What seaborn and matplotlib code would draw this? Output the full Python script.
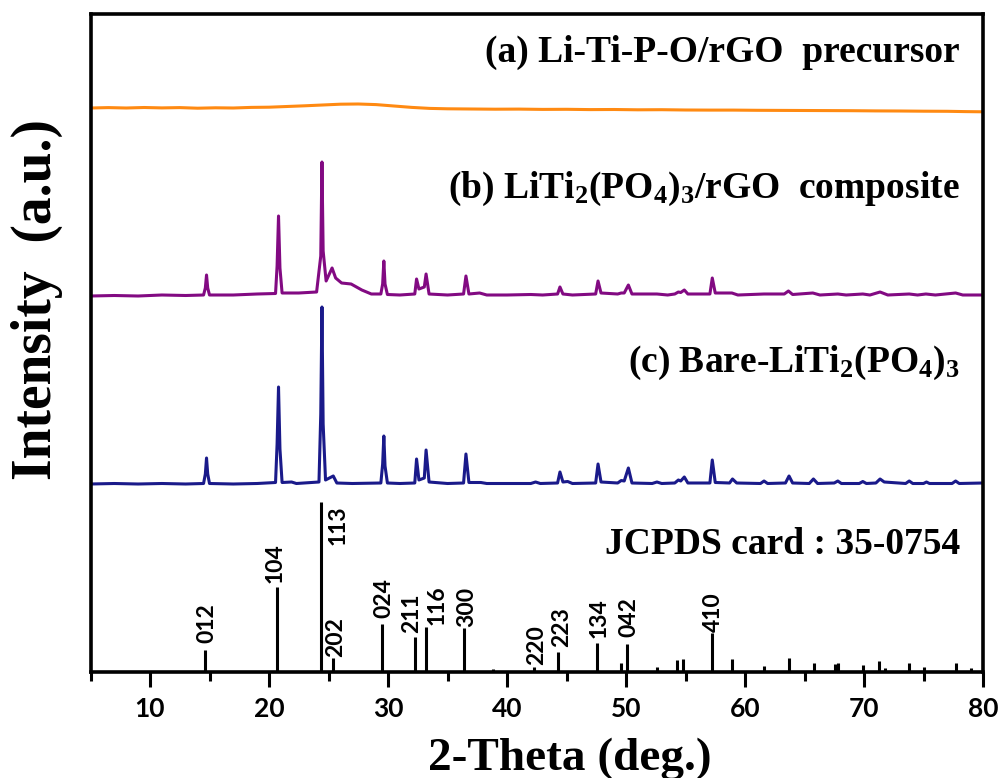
import numpy as np
import pandas as pd
import matplotlib
matplotlib.use("Agg")
import matplotlib.pyplot as plt
from matplotlib.ticker import MultipleLocator
import seaborn as sns

# ---------------- data ----------------
# (a) Li-Ti-P-O/rGO precursor : 2-theta, intensity (a.u.) above its own baseline
a_theta = [5, 6.5, 8, 9.5, 11, 12.5, 14, 15.5, 17, 18.5, 20, 21.5, 23, 24.5, 26, 27.5,
           29, 30.5, 32, 33.5, 35, 37, 39, 41, 43, 45, 47, 49, 51, 53, 55, 57, 59, 61,
           63, 65, 67, 69, 71, 73, 75, 77, 78.5, 80]
a_int = [0, 0.4, 0, 0.5, 0.1, 0.4, -0.2, 0.2, 0, 0.6, 0.8, 1.5, 2.2, 3, 3.8, 4,
         3.4, 2, 0.6, -0.4, -0.8, -1, -1.2, -1.1, -1.4, -1.3, -1.6, -1.5, -1.8, -1.7, -2, -2.1, -2.1, -2.3,
         -2.4, -2.5, -2.6, -2.7, -2.9, -3, -3.2, -3.3, -3.6, -3.8]

# (b) LiTi2(PO4)3/rGO composite
b_theta = [5, 7, 9, 11, 13, 14.5, 14.65, 14.75, 14.85, 15.0, 17, 19, 20.55, 20.68, 20.8,
           20.92, 21.1, 22.5, 24.0, 24.35, 24.45, 24.55, 24.8, 25.3, 25.6, 26.1, 26.9, 27.8,
           28.6, 29.4, 29.55, 29.65, 29.75, 29.95, 31, 32.25, 32.4, 32.6, 33.05, 33.2, 33.45,
           35, 36.35, 36.55, 36.8, 37.7, 38.3, 40, 42, 43, 44.25, 44.45, 44.7, 45.5, 47.45,
           47.65, 47.9, 49.3, 49.6, 49.85, 50.2, 50.5, 52.6, 53.5, 54.1, 54.4, 54.6, 54.9,
           55.2, 57.05, 57.25, 57.5, 58.9, 59.4, 61.6, 63.3, 63.65, 64.0, 65.7, 66.3, 67.8,
           68.5, 69.9, 70.5, 71.35, 72.0, 73.8, 74.5, 75.2, 76, 77.7, 78.3, 80]
b_int = [0, 0.5, 0, 1, 0.5, 1, 8, 21, 8, 1, 1, 2, 2.5, 30, 80,
         28, 3, 3, 4, 40, 134, 45, 15, 28, 18, 13, 12, 6,
         2, 2, 12, 35, 12, 1.5, 1, 2, 17, 7, 9, 22, 2,
         1, 2, 20, 2, 3, 1, 1, 1.5, 1, 2, 9, 2, 1, 2,
         15, 3, 2, 3, 3, 11, 2, 2, 1, 2, 4, 3.5, 6,
         2, 2, 18, 3, 3, 1, 2, 2, 5, 1.5, 3, 1, 2,
         1, 2, 1, 4, 1, 2, 1, 2, 1, 3, 1, 1]

# (c) Bare-LiTi2(PO4)3
c_theta = [5, 7, 9, 11, 13, 14.5, 14.65, 14.75, 14.85, 15.0, 17, 19, 20.55, 20.68, 20.8,
           20.92, 21.1, 21.9, 22.3, 24.2, 24.35, 24.45, 24.55, 24.75, 25.4, 25.7, 27, 29.4,
           29.55, 29.65, 29.75, 29.95, 31, 32.25, 32.4, 32.6, 33.05, 33.2, 33.45, 35, 36.35,
           36.55, 36.8, 37.8, 38.3, 40, 42.0, 42.4, 42.8, 44.25, 44.45, 44.7, 45.1, 45.5,
           47.45, 47.65, 47.9, 49.3, 49.6, 49.85, 50.2, 50.5, 52.2, 52.6, 53, 54.1, 54.4,
           54.6, 54.9, 55.2, 57.05, 57.25, 57.5, 58.7, 58.95, 59.3, 61.3, 61.6, 61.9, 63.4,
           63.7, 64.0, 65.4, 65.75, 66.1, 67.5, 67.8, 68.1, 69.6, 69.9, 70.2, 71.0, 71.35,
           71.7, 73.5, 73.8, 74.1, 75.0, 75.25, 75.5, 77.4, 77.7, 78.0, 80]
c_int = [0, 0.5, 0, 0.5, 0, 0.5, 10, 26, 10, 0.5, 0, 0.5, 1.5, 40, 97,
         35, 1.5, 2, 0.5, 2, 70, 177, 60, 4, 8, 1, 0.5, 1,
         20, 48, 18, 1, 0.5, 1, 25, 4, 6, 34, 2, 0.5, 1,
         30, 1.5, 1.5, 0.5, 0.5, 0.5, 2, 0.5, 1, 12, 2, 2.5, 0.5,
         1, 20, 2, 1, 3.5, 3, 16, 1, 0.5, 2, 0.5, 1, 4,
         3, 7, 1, 1, 24, 1.5, 1, 5, 1, 0.5, 3, 0.5, 1,
         8, 1, 0.5, 5, 0.5, 1, 3, 0.5, 0.5, 2.5, 0.5, 1, 5,
         2, 0.5, 3, 0.5, 0.5, 2, 0.5, 0.5, 3, 0.5, 1]

# JCPDS card 35-0754 reference lines
ref_theta = [14.6, 20.7, 24.4, 25.4, 29.5, 32.3, 33.2, 36.4, 38.8, 42.3, 44.3, 47.6,
             49.6, 50.1, 52.6, 54.3, 54.8, 57.2, 58.9, 61.6, 63.7, 65.8, 67.6, 67.8,
             69.9, 71.3, 71.8, 73.8, 75.0, 77.7, 79.0]
ref_int = [22, 85, 170, 14, 48, 35, 45, 44, 3, 5, 20, 29,
           9, 28, 5, 12, 13, 39, 13, 6, 14, 9, 8, 9,
           7, 11, 4, 9, 5, 9, 4]

hkl_labels = ["012", "104", "113", "202", "024", "211", "116", "300",
              "220", "223", "134", "042", "410"]
hkl_theta = [14.6, 20.7, 24.4, 25.4, 29.5, 32.3, 33.2, 36.4, 42.3, 44.3, 47.6, 50.1, 57.2]
hkl_int = [22, 85, 170, 14, 48, 35, 45, 44, 5, 20, 29, 28, 39]

curve_names = ["(a) Li-Ti-P-O/rGO  precursor",
               r"(b) LiTi$_{2}$(PO$_{4}$)$_{3}$/rGO  composite",
               r"(c) Bare-LiTi$_{2}$(PO$_{4}$)$_{3}$",
               "JCPDS card : 35-0754"]

x_ticks = [10, 20, 30, 40, 50, 60, 70, 80]

# ---------------- layout / style ----------------
offsets = {"a": 564, "b": 376, "c": 188}
colors = {"a": "#FF8A12", "b": "#820A82", "c": "#1A1A8A"}
label_off = [(1.5, 5), (-1.5, 3), (12, -31), (2, 0.5), (1.5, 4), (-3, 3), (8, 1.5), (1.5, 1),
             (1.5, 1.5), (2.5, 3.5), (1.5, 3.5), (1.5, 5), (1.5, 1)]

sns.set_theme(style="ticks")
plt.rcParams["font.family"] = ["Liberation Serif", "DejaVu Serif"]
plt.rcParams["text.color"] = "black"
plt.rcParams["axes.labelcolor"] = "black"
plt.rcParams["xtick.color"] = "black"
plt.rcParams["mathtext.fontset"] = "custom"
plt.rcParams["mathtext.rm"] = "Liberation Serif:bold"
plt.rcParams["mathtext.it"] = "Liberation Serif:bold"
plt.rcParams["mathtext.bf"] = "Liberation Serif:bold"
plt.rcParams["mathtext.default"] = "rm"

W, H = 1002, 778
fig = plt.figure(figsize=(W / 100, H / 100), dpi=100)
L, R, T, B = 90.5, 983, 14, 672
ax = fig.add_axes([L / W, 1 - B / H, (R - L) / W, (B - T) / H])

for key, th, it in (("a", a_theta, a_int), ("b", b_theta, b_int), ("c", c_theta, c_int)):
    df = pd.DataFrame({"theta": th, "I": np.asarray(it, float) + offsets[key]})
    sns.lineplot(data=df, x="theta", y="I", color=colors[key], lw=2.2, ax=ax,
                 sort=False, estimator=None)

ax.vlines(ref_theta, 0, ref_int, color="black", lw=2.2)

for lab, x, h, (dx, dy) in zip(hkl_labels, hkl_theta, hkl_int, label_off):
    ax.annotate(lab, xy=(x, h), xytext=(dx, dy), textcoords="offset points",
                rotation=90, ha="center", va="bottom", color="black",
                fontfamily=["Lato", "DejaVu Sans"], fontweight="bold", fontsize=16.5)

text_y = [(B - 62) / (B - T), (B - 198) / (B - T), (B - 372) / (B - T), (B - 554) / (B - T)]
for name, ty in zip(curve_names, text_y):
    ax.text((960 - L) / (R - L), ty, name, transform=ax.transAxes, ha="right",
            va="baseline", fontsize=27, fontweight="bold", color="black")

ax.set_xlim(5, 80)
ax.set_ylim(0, B - T)
ax.set_xticks(x_ticks)
ax.set_xticklabels([str(v) for v in x_ticks], fontfamily=["Lato", "DejaVu Sans"],
                   fontweight="bold", fontsize=19, color="black")
ax.xaxis.set_minor_locator(MultipleLocator(5))
ax.tick_params(axis="x", which="major", direction="out", length=11, width=2.2,
               pad=7, colors="black")
ax.tick_params(axis="x", which="minor", direction="out", length=6.5, width=2.2,
               colors="black")
ax.set_yticks([])
for s in ax.spines.values():
    s.set_visible(True)
    s.set_linewidth(2.6)
    s.set_color("black")

ax.set_xlabel("2-Theta (deg.)", fontsize=34, fontweight="bold", va="baseline",
              color="black")
ax.xaxis.set_label_coords((570 - L) / (R - L), (B - 770) / (B - T))
ax.set_ylabel("Intensity  (a.u.)", fontsize=40, fontweight="bold", va="center",
              color="black")
ax.yaxis.set_label_coords((37 - L) / (R - L), (B - 300) / (B - T))

fig.savefig("out.png", dpi=100)
